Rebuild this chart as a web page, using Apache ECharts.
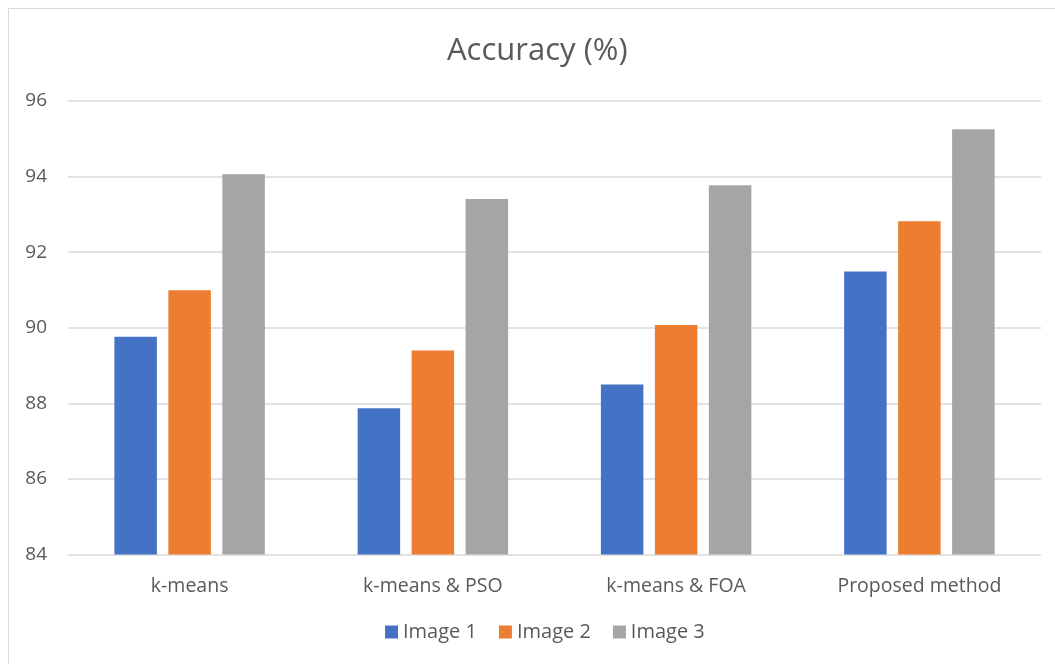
<!DOCTYPE html>
<html>
<head>
<meta charset="utf-8">
<title>Accuracy (%)</title>
<script src="https://cdn.jsdelivr.net/npm/echarts@6/dist/echarts.min.js"></script>
<style>
  html, body { margin: 0; padding: 0; background: #ffffff; }
  #chart { width: 1055px; height: 664px; }
</style>
</head>
<body>
<div id="chart"></div>
<script>
// Methods compared along the x axis
const categories = ['k-means', 'k-means & PSO', 'k-means & FOA', 'Proposed method'];

// Accuracy (%) per test image
const image1 = [89.76, 87.87, 88.50, 91.49];
const image2 = [90.99, 89.40, 90.07, 92.82];
const image3 = [94.06, 93.41, 93.77, 95.25];

const seriesNames = ['Image 1', 'Image 2', 'Image 3'];
const seriesColors = ['#4472C4', '#ED7D31', '#A5A5A5'];

// Value axis range
const yMin = 84;
const yMax = 96;
const yStep = 2;

const FONT = '"Open Sans", "Noto Sans", sans-serif';
const TEXT = '#595959';

const chart = echarts.init(document.getElementById('chart'), null, { renderer: 'canvas' });

const values = [image1, image2, image3];

chart.setOption({
  backgroundColor: '#ffffff',
  animation: false,
  textStyle: { fontFamily: FONT },
  graphic: [{
    type: 'rect',
    shape: { x: 8.5, y: 8.5, width: 1100, height: 700 },
    style: { fill: 'none', stroke: '#D9D9D9', lineWidth: 1 },
    silent: true
  }],
  title: {
    text: 'Accuracy (%)',
    left: 447,
    top: 36,
    padding: 0,
    textStyle: { fontFamily: FONT, fontSize: 31, fontWeight: 'normal', color: TEXT }
  },
  legend: {
    data: seriesNames,
    bottom: 17,
    left: 380,
    icon: 'rect',
    itemWidth: 13,
    itemHeight: 13,
    itemGap: 22,
    textStyle: { fontFamily: FONT, fontSize: 20, color: TEXT }
  },
  grid: {
    left: 68,
    right: 14,
    top: 101,
    bottom: 109.5,
    containLabel: false
  },
  xAxis: {
    type: 'category',
    data: categories,
    axisLine: { show: false },
    axisTick: { show: false },
    axisLabel: { margin: 22, fontFamily: FONT, fontSize: 19.5, color: TEXT },
    splitLine: { show: false }
  },
  yAxis: {
    type: 'value',
    min: yMin,
    max: yMax,
    interval: yStep,
    axisLine: { show: false },
    axisTick: { show: false },
    axisLabel: { margin: 21, fontFamily: FONT, fontSize: 19, color: TEXT },
    splitLine: { show: true, lineStyle: { color: '#D9D9D9', width: 1.5 } }
  },
  series: seriesNames.map((name, i) => ({
    name: name,
    type: 'bar',
    data: values[i],
    barWidth: 42.5,
    barGap: '27%',
    itemStyle: { color: seriesColors[i] }
  }))
});
</script>
</body>
</html>
